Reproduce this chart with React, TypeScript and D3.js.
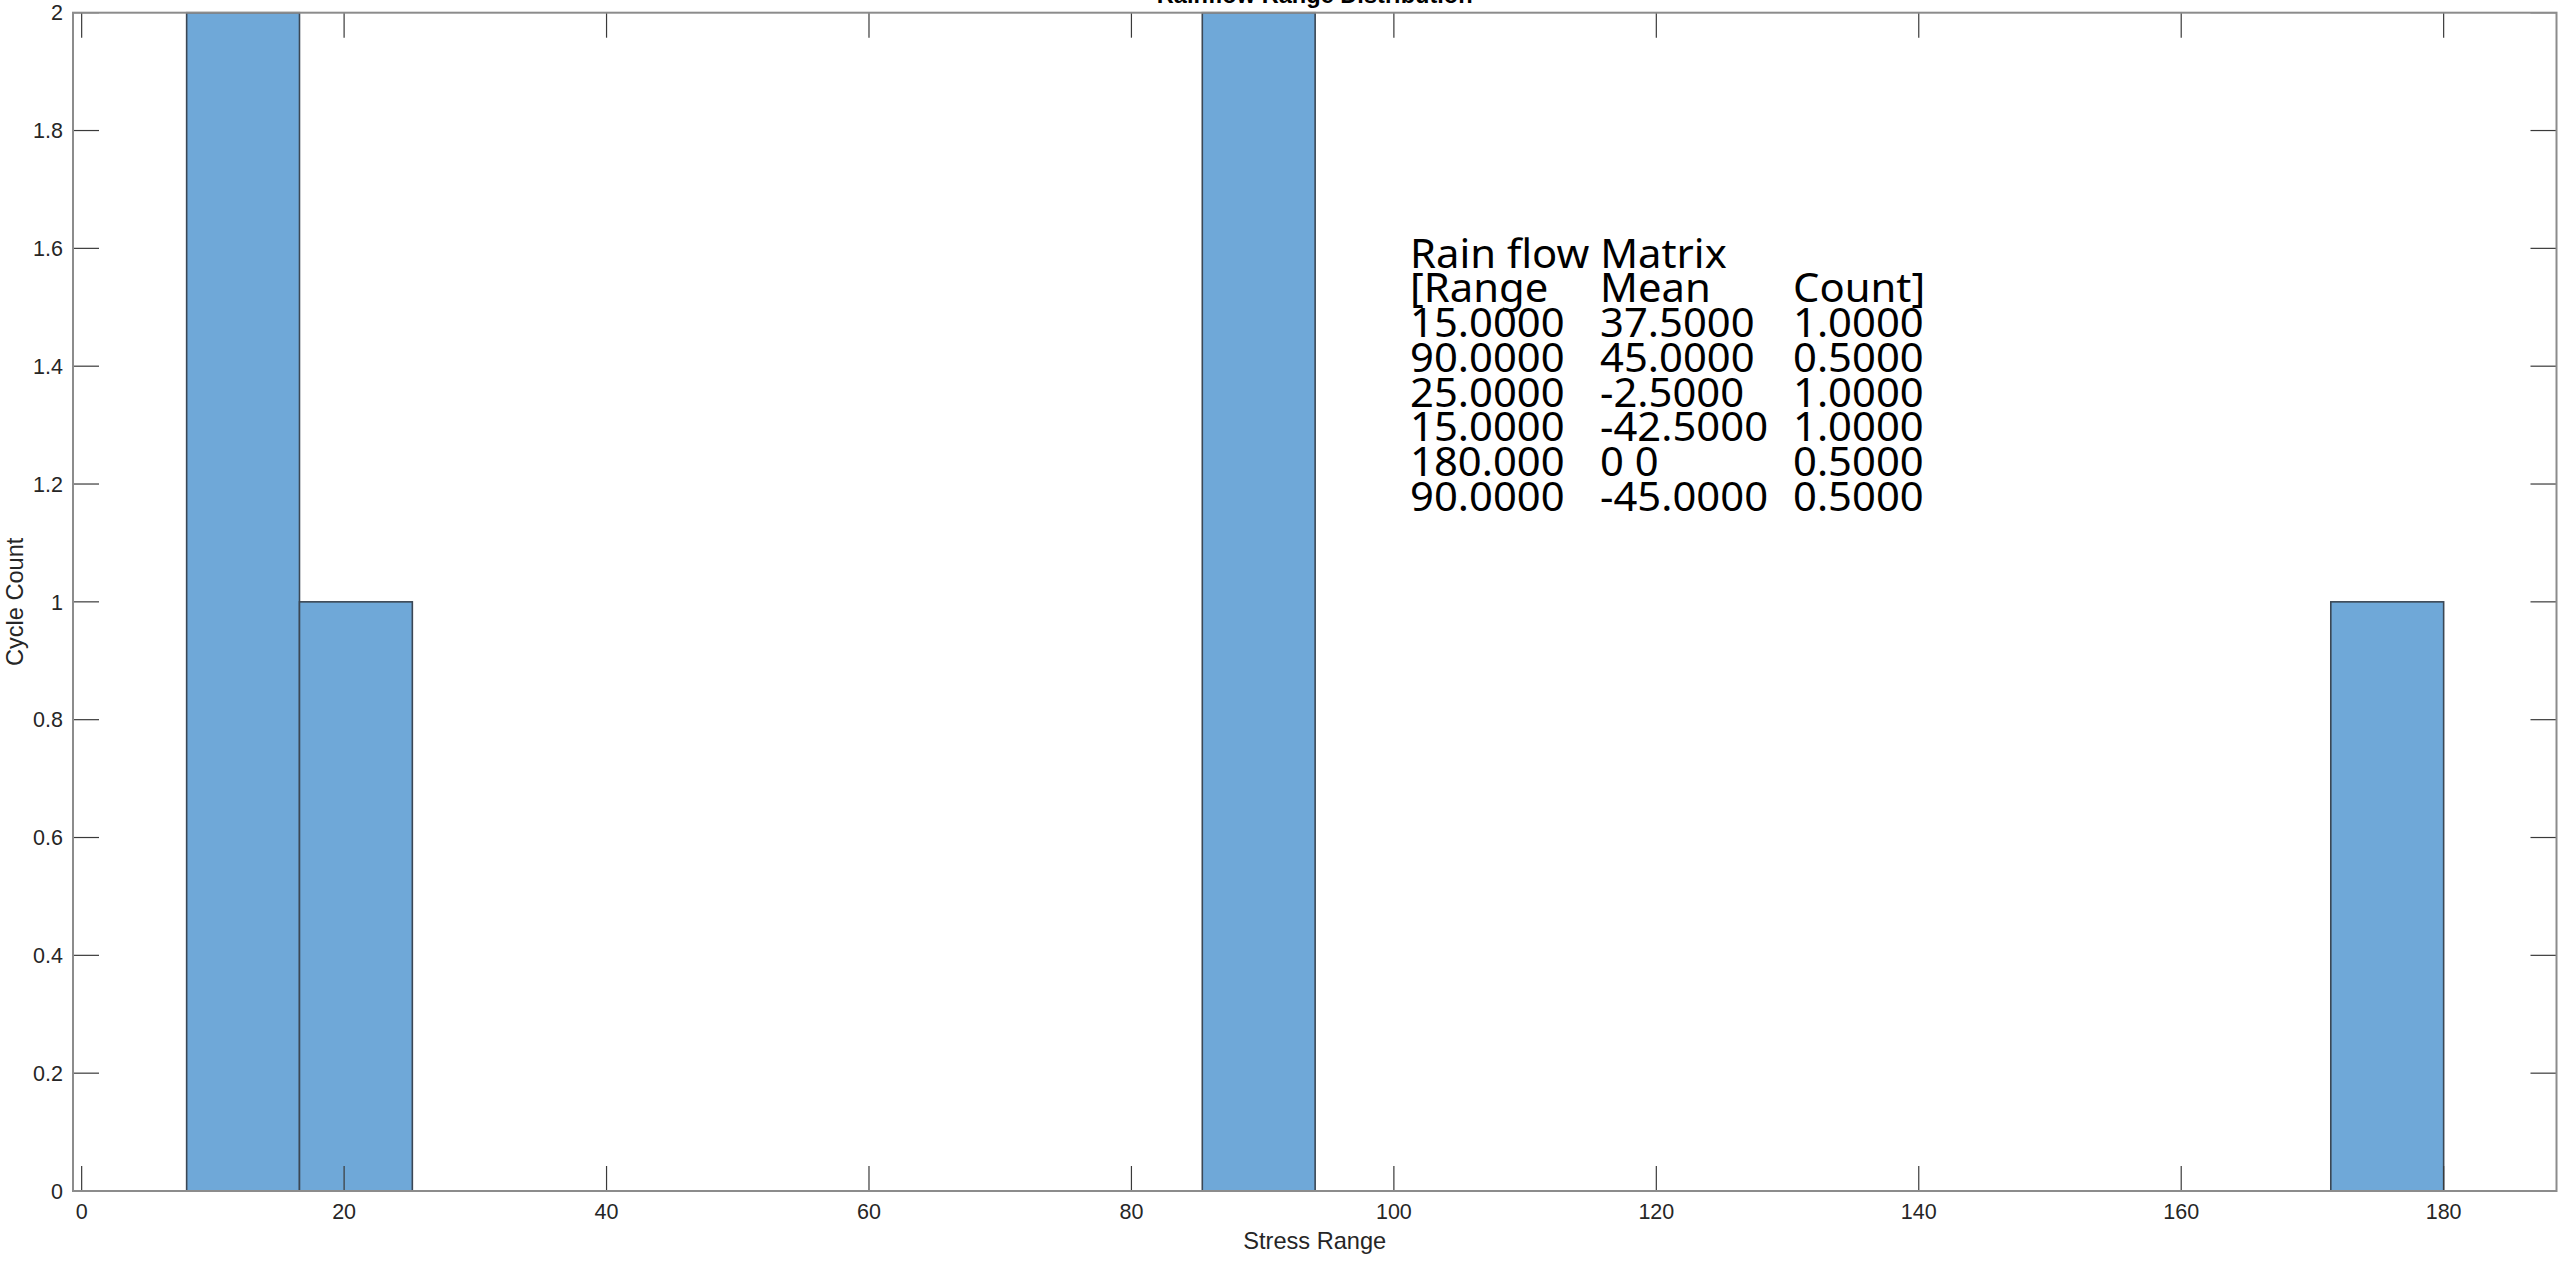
import React from "react";
import * as d3 from "d3";

// Histogram of rainflow stress ranges (bin lower edge, upper edge, cycle count)
const binLower = [8, 16.6, 85.4, 171.4];
const binUpper = [16.6, 25.2, 94, 180];
const binCounts = [2, 1, 2, 1];

const xTicks = [0, 20, 40, 60, 80, 100, 120, 140, 160, 180];
const yTicks = [0, 0.2, 0.4, 0.6, 0.8, 1, 1.2, 1.4, 1.6, 1.8, 2];

// Rainflow matrix rows printed on the chart
const matrixHeader = ["[Range", "Mean", "Count]"];
const matrixRange = ["15.0000", "90.0000", "25.0000", "15.0000", "180.000", "90.0000"];
const matrixMean = ["37.5000", "45.0000", "-2.5000", "-42.5000", "0 0", "-45.0000"];
const matrixCount = ["1.0000", "0.5000", "1.0000", "1.0000", "0.5000", "0.5000"];

const W = 2560;
const H = 1262;
const left = 73;
const right = 2556.5;
const top = 12.7;
const bottom = 1191;

export default function App() {
  const x = d3.scaleLinear().domain([-0.66, 188.6]).range([left, right]);
  const y = d3.scaleLinear().domain([0, 2]).range([bottom, top]);
  const tickFont = "'Liberation Sans', Arial, Helvetica, sans-serif";
  const textColor = "#262626";
  const tickSize = 21.5;
  const labelSize = 23.6;
  const noteFont = "'Noto Sans', 'Open Sans', sans-serif";
  const noteSize = 40;
  const stretch = 1.045;
  const lineStep = 34.7;
  const colX = [1410, 1600, 1793];
  const noteTop = 267.7;

  const note = (s: string, px: number, py: number, key: string) => (
    <text key={key} transform={`translate(${px},${py}) scale(${stretch},1)`} style={{ whiteSpace: "pre" }}>
      {s}
    </text>
  );

  return (
    <div style={{ position: "absolute", left: 0, top: 0, width: W, height: H }}>
      <svg width={W} height={H} style={{ display: "block", background: "#fff" }}>
        <rect x={0} y={0} width={W} height={H} fill="#fff" />
        {/* bars */}
        {binCounts.map((c, i) => (
          <rect
            key={"b" + i}
            x={x(binLower[i])}
            y={y(c)}
            width={x(binUpper[i]) - x(binLower[i])}
            height={y(0) - y(c)}
            fill="#6FA8D8"
            stroke="#3b4754"
            strokeWidth={1.6}
          />
        ))}
        {/* ticks, inward on all four sides */}
        {xTicks.map((t) => (
          <g key={"xt" + t}>
            <line x1={x(t)} x2={x(t)} y1={bottom} y2={bottom - 25} stroke="#3a3a3a" strokeWidth={1.2} />
            <line x1={x(t)} x2={x(t)} y1={top} y2={top + 25} stroke="#3a3a3a" strokeWidth={1.2} />
            <text x={x(t)} y={1219} textAnchor="middle" fontFamily={tickFont} fontSize={tickSize} fill={textColor}>
              {t}
            </text>
          </g>
        ))}
        {yTicks.map((t) => (
          <g key={"yt" + t}>
            <line x1={left} x2={left + 26} y1={y(t)} y2={y(t)} stroke="#3a3a3a" strokeWidth={1.2} />
            <line x1={right} x2={right - 26} y1={y(t)} y2={y(t)} stroke="#3a3a3a" strokeWidth={1.2} />
            <text x={63} y={y(t)} dy="0.36em" textAnchor="end" fontFamily={tickFont} fontSize={tickSize} fill={textColor}>
              {t}
            </text>
          </g>
        ))}
        {/* axes box */}
        <rect x={left} y={top} width={right - left} height={bottom - top} fill="none" stroke="#8c8c8c" strokeWidth={2} />
        {/* labels */}
        <text x={(left + right) / 2} y={1249} textAnchor="middle" fontFamily={tickFont} fontSize={labelSize} fill={textColor}>
          Stress Range
        </text>
        <text
          transform={`translate(23,${(top + bottom) / 2}) rotate(-90)`}
          textAnchor="middle"
          fontFamily={tickFont}
          fontSize={labelSize}
          fill={textColor}
        >
          Cycle Count
        </text>
        <text x={(left + right) / 2} y={3} textAnchor="middle" fontFamily={tickFont} fontSize={labelSize} fontWeight="bold" fill="#000">
          Rainflow Range Distribution
        </text>
        {/* rainflow matrix note */}
        <g fontFamily={noteFont} fontSize={noteSize} fill="#000">
          {note("Rain flow Matrix", colX[0], noteTop, "title")}
          {matrixHeader.map((h, j) => note(h, colX[j], noteTop + lineStep, "h" + j))}
          {matrixRange.map((r, i) => (
            <g key={"r" + i}>
              {note(r, colX[0], noteTop + lineStep * (i + 2), "a")}
              {note(matrixMean[i], colX[1], noteTop + lineStep * (i + 2), "m")}
              {note(matrixCount[i], colX[2], noteTop + lineStep * (i + 2), "c")}
            </g>
          ))}
        </g>
      </svg>
    </div>
  );
}
